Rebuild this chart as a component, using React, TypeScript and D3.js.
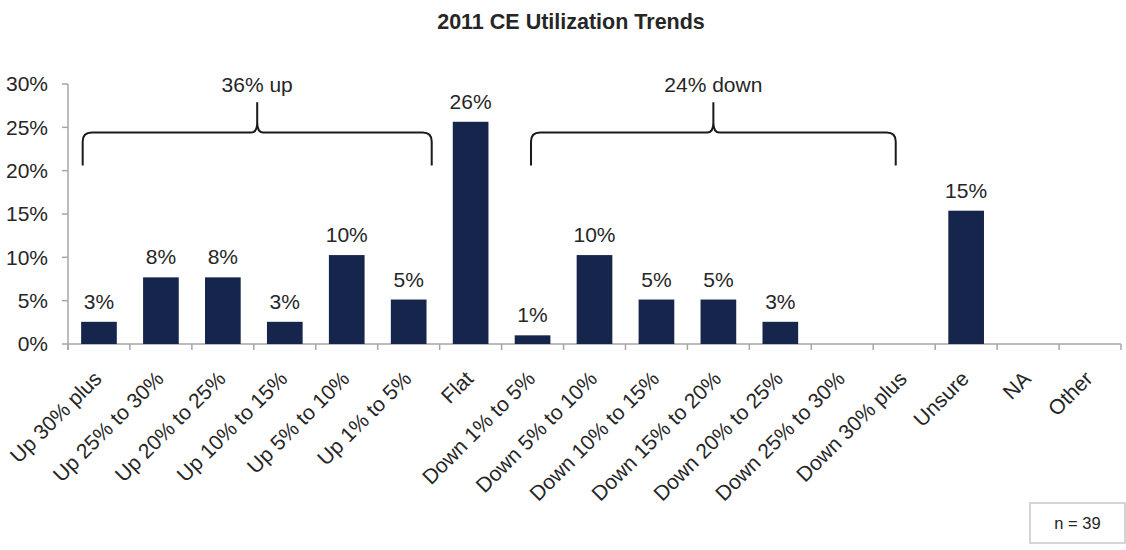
import React from "react";
import * as d3 from "d3";

const categories = [
  "Up 30% plus", "Up 25% to 30%", "Up 20% to 25%", "Up 10% to 15%", "Up 5% to 10%", "Up 1% to 5%",
  "Flat", "Down 1% to 5%", "Down 5% to 10%", "Down 10% to 15%", "Down 15% to 20%", "Down 20% to 25%",
  "Down 25% to 30%", "Down 30% plus", "Unsure", "NA", "Other",
];
const values = [2.56, 7.69, 7.69, 2.56, 10.26, 5.13, 25.64, 1.0, 10.26, 5.13, 5.13, 2.56, 0, 0, 15.38, 0, 0];
const yTicks = [0, 5, 10, 15, 20, 25, 30];
const braceLabels = ["36% up", "24% down"];
const braceFrom = [0.237, 7.475];
const braceTo = [5.872, 13.363];

const W = 1126, H = 550;
const M = { left: 68, right: 1121, top: 84, bottom: 344 };
const FONT = "'Liberation Sans', Arial, sans-serif";
const TXT = "#262626";
const AXIS = "#a6a6a6";
const BAR = "#15254c";
const FS = 21;

export default function App() {
  const x = d3.scaleBand<string>().domain(categories).range([M.left, M.right])
    .paddingInner(0.424).paddingOuter(0.212);
  const step = x.step();
  const y = d3.scaleLinear().domain([0, 30]).range([M.bottom, M.top]);
  const pos = (i: number) => M.left + i * step;

  const bracePath = (x1: number, x2: number) => {
    const yb = y(20.6), yh = y(24.4), yt = y(27.9);
    const xm = (x1 + x2) / 2;
    const r = 9, c = 6;
    const p = d3.path();
    p.moveTo(x1, yb);
    p.lineTo(x1, yh + r);
    p.quadraticCurveTo(x1, yh, x1 + r, yh);
    p.lineTo(xm - c, yh);
    p.quadraticCurveTo(xm, yh, xm, yh - 10);
    p.lineTo(xm, yt);
    p.moveTo(xm, yh - 10);
    p.quadraticCurveTo(xm, yh, xm + c, yh);
    p.lineTo(x2 - r, yh);
    p.quadraticCurveTo(x2, yh, x2, yh + r);
    p.lineTo(x2, yb);
    return p.toString();
  };

  const bounds = d3.range(categories.length + 1).map(pos);

  return (
    <svg width={W} height={H} style={{ position: "absolute", left: 0, top: 0, background: "#fff" }} fontFamily={FONT}>
      <text x={571} y={28.5} textAnchor="middle" fontWeight="bold" fontSize={21.5} fill={TXT}>
        2011 CE Utilization Trends
      </text>

      {/* y axis */}
      <line x1={M.left} x2={M.left} y1={M.top} y2={M.bottom + 6} stroke={AXIS} strokeWidth={1.5} />
      {yTicks.map((t) => (
        <g key={t}>
          <line x1={M.left - 6} x2={M.left} y1={y(t)} y2={y(t)} stroke={AXIS} strokeWidth={1.5} />
          <text x={M.left - 20} y={y(t)} dy="0.35em" textAnchor="end" fontSize={FS} fill={TXT}>
            {t}%
          </text>
        </g>
      ))}

      {/* x axis */}
      <line x1={M.left} x2={M.right} y1={M.bottom} y2={M.bottom} stroke={AXIS} strokeWidth={1.5} />
      {bounds.map((b, i) => (
        <line key={i} x1={b} x2={b} y1={M.bottom} y2={M.bottom + 6} stroke={AXIS} strokeWidth={1.5} />
      ))}

      {/* bars */}
      {categories.map((c, i) =>
        values[i] > 0 ? (
          <g key={c}>
            <rect x={x(c)} y={y(values[i])} width={x.bandwidth()} height={M.bottom - y(values[i])} fill={BAR} />
            <text x={(x(c) as number) + x.bandwidth() / 2} y={y(values[i]) - 13} textAnchor="middle" fontSize={FS} fill={TXT}>
              {Math.round(values[i])}%
            </text>
          </g>
        ) : null
      )}

      {/* x labels */}
      {categories.map((c, i) => {
        const cx = (x(c) as number) + x.bandwidth() / 2 + 4;
        const cy = M.bottom + 36;
        return (
          <text key={c} x={cx} y={cy} textAnchor="end" fontSize={FS} fill={TXT} transform={`rotate(-45 ${cx} ${cy})`}>
            {c}
          </text>
        );
      })}

      {/* braces */}
      {braceLabels.map((l, i) => {
        const x1 = pos(braceFrom[i]), x2 = pos(braceTo[i]);
        return (
          <g key={l}>
            <path d={bracePath(x1, x2)} fill="none" stroke="#1a1a1a" strokeWidth={2} />
            <text x={(x1 + x2) / 2} y={y(29.1)} textAnchor="middle" fontSize={FS} fill={TXT}>
              {l}
            </text>
          </g>
        );
      })}

      {/* n box */}
      <rect x={1030} y={503} width={95} height={40} fill="#fff" stroke="#c8c8c8" strokeWidth={1.5} />
      <text x={1077.5} y={523} dy="0.35em" textAnchor="middle" fontSize={16.5} fill={TXT}>
        n = 39
      </text>
    </svg>
  );
}
